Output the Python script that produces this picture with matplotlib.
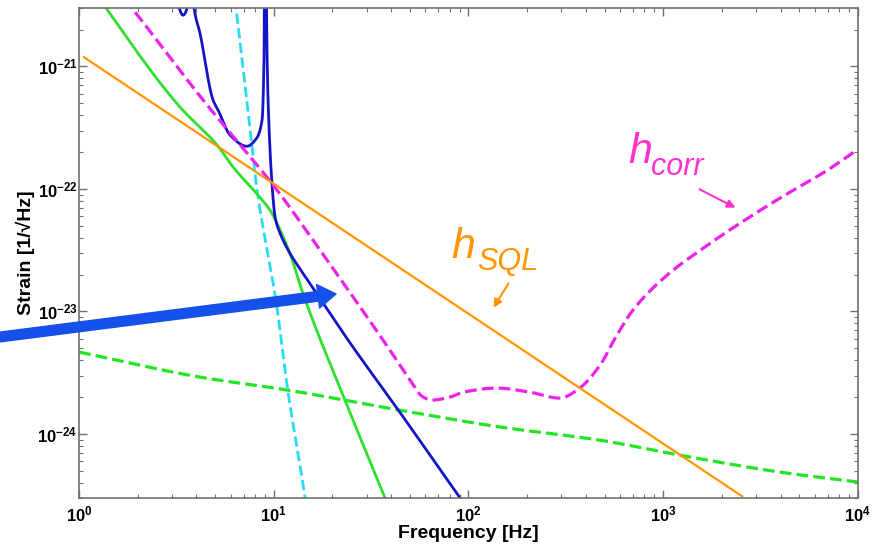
import numpy as np
import matplotlib
matplotlib.use('Agg')
import matplotlib.pyplot as plt
from matplotlib.ticker import FixedLocator, LogLocator, NullFormatter, FuncFormatter

plt.rcParams['font.family'] = ['Liberation Sans', 'DejaVu Sans']
plt.rcParams['mathtext.fontset'] = 'custom'
plt.rcParams['mathtext.rm'] = 'Liberation Sans:bold'
plt.rcParams['mathtext.bf'] = 'Liberation Sans:bold'

# Noise curves, frequency in Hz and strain in 1/sqrt(Hz)
sql_freq = [1.06, 2540]
sql_strain = [1.19e-21, 3.10e-25]

corr_freq = [1.58, 1.87, 4.34, 10.4, 17.3, 39.5, 50.1, 58.5, 65.0, 80.4, 93.8, 140,
             207, 295, 361, 474, 566, 700, 1047, 1549, 2483, 4130, 6950, 10000]
corr_strain = [4.17e-21, 2.99e-21, 5.31e-22, 9.77e-23, 3.16e-23, 4.83e-24, 2.75e-24,
               2.00e-24, 1.89e-24, 2.00e-24, 2.19e-24, 2.37e-24, 2.19e-24, 1.96e-24,
               2.28e-24, 3.65e-24, 6.05e-24, 1.03e-23, 1.98e-23, 3.16e-23, 5.26e-23,
               8.73e-23, 1.42e-22, 2.11e-22]

susp_freq = [1.0, 3.30, 5.12, 6.18, 8.30, 9.57, 10.8, 12.1, 14.1, 23.2, 37.3, 45.0]
susp_strain = [6.1e-21, 4.66e-22, 2.28e-22, 1.51e-22, 8.9e-23, 6.71e-23, 4.61e-23,
               2.99e-23, 1.41e-23, 1.89e-24, 2.99e-25, 1.45e-25]

seis_freq = [6.0, 6.40, 7.47, 8.21, 9.24, 10.2, 11.8, 14.5, 16.0]
seis_strain = [7.0e-21, 2.99e-21, 3.65e-22, 9.77e-23, 3.16e-23, 1.31e-23, 2.28e-24,
               2.99e-25, 1.0e-25]

total_freq = [3.10, 3.27, 3.42, 3.59, 3.72, 3.90, 4.18, 4.88, 5.18, 5.97, 7.29, 8.02,
              8.71, 8.91, 9.02, 9.25, 9.35, 9.79, 10.16, 10.77, 12.1, 14.1, 17.9,
              24.7, 44.6, 90.6, 110]
total_strain = [5.0e-21, 2.99e-21, 2.62e-21, 2.99e-21, 1.0e-20, 2.99e-21, 1.87e-21,
                5.31e-22, 4.40e-22, 2.75e-22, 2.23e-22, 2.50e-22, 3.64e-22, 1.12e-21,
                3.0e-20, 1.12e-21, 5.31e-22, 1.11e-22, 5.89e-23, 4.36e-23, 2.99e-23,
                2.06e-23, 1.17e-23, 5.51e-24, 1.49e-24, 2.99e-25, 1.93e-25]

shot_freq = [1.0, 4.18, 11.8, 44.6, 145, 474, 1222, 3981, 10000]
shot_strain = [4.66e-24, 2.91e-24, 2.28e-24, 1.56e-24, 1.14e-24, 8.89e-25, 6.70e-25,
               4.88e-25, 4.05e-25]

W, H = 876, 546


def px(x, y):
    # pixel position (from top-left) to figure fraction
    return x / W, 1 - y / H


def pchip_loglog(freq, strain, n=30):
    """Monotone cubic through the points in log-log space, so curves look smooth."""
    x = np.log10(freq)
    y = np.log10(strain)
    h = np.diff(x)
    d = np.diff(y) / h
    m = np.zeros_like(y)
    m[0], m[-1] = d[0], d[-1]
    for k in range(1, len(x) - 1):
        if d[k - 1] * d[k] > 0:
            w1 = 2 * h[k] + h[k - 1]
            w2 = h[k] + 2 * h[k - 1]
            m[k] = (w1 + w2) / (w1 / d[k - 1] + w2 / d[k])
    xs, ys = [], []
    for k in range(len(x) - 1):
        t = np.linspace(0, 1, n, endpoint=(k == len(x) - 2))
        h00 = 2 * t**3 - 3 * t**2 + 1
        h10 = t**3 - 2 * t**2 + t
        h01 = -2 * t**3 + 3 * t**2
        h11 = t**3 - t**2
        xs.append(x[k] + t * h[k])
        ys.append(h00 * y[k] + h10 * h[k] * m[k] + h01 * y[k + 1] + h11 * h[k] * m[k + 1])
    return 10 ** np.concatenate(xs), 10 ** np.concatenate(ys)


fig = plt.figure(figsize=(W / 100, H / 100), dpi=100)
ax = fig.add_axes([79 / W, 1 - 498 / H, (858 - 79) / W, (498 - 8) / H])

ax.plot(*pchip_loglog(shot_freq, shot_strain), color='#22e622', lw=2.3, ls='--')
ax.plot(*pchip_loglog(seis_freq, seis_strain), color='#28dcf0', lw=2.0, ls='--')
ax.plot(*pchip_loglog(susp_freq, susp_strain), color='#2ee02e', lw=2.0)
ax.plot(*pchip_loglog(total_freq, total_strain), color='#1414c8', lw=2.0)
ax.plot(*pchip_loglog(corr_freq, corr_strain), color='#ea22ea', lw=2.3, ls='--')
ax.plot(sql_freq, sql_strain, color='#ff9500', lw=1.6)

ax.set_xscale('log')
ax.set_yscale('log')
ax.set_xlim(1, 1e4)
ax.set_ylim(3e-25, 3e-21)

ax.xaxis.set_major_locator(FixedLocator([1, 10, 100, 1000, 10000]))
ax.yaxis.set_major_locator(FixedLocator([1e-24, 1e-23, 1e-22, 1e-21]))
for axis in (ax.xaxis, ax.yaxis):
    axis.set_minor_locator(LogLocator(base=10, subs=np.arange(2, 10)))
    axis.set_minor_formatter(NullFormatter())
    axis.set_major_formatter(FuncFormatter(lambda v, pos: r'$\mathrm{10^{%d}}$' % round(np.log10(v))))

ax.tick_params(which='both', direction='in', top=True, right=True, color='#707070')
ax.tick_params(which='major', length=6, width=1.0, labelsize=12)
ax.tick_params(which='minor', length=3, width=0.8)
ax.tick_params(axis='x', pad=5)
ax.tick_params(axis='y', pad=1)
for s in ax.spines.values():
    s.set_color('#707070')
    s.set_linewidth(1.2)

ax.set_xlabel('Frequency [Hz]', fontsize=14, fontweight='bold', labelpad=0)
ax.set_ylabel('Strain [1/\u221aHz]', fontsize=14, fontweight='bold', labelpad=2)

# curve labels
fig.text(*px(451, 258), 'h', color='#ff9500', fontsize=31, style='italic',
         ha='left', va='baseline')
fig.text(*px(477, 270), 'SQL', color='#ff9500', fontsize=22, style='italic',
         ha='left', va='baseline')
fig.text(*px(628, 163), 'h', color='#ff33cc', fontsize=31, style='italic',
         ha='left', va='baseline')
fig.text(*px(651, 175), 'corr', color='#ff33cc', fontsize=22, style='italic',
         ha='left', va='baseline')

ax.annotate('', xy=px(492, 310), xytext=px(510, 281), xycoords='figure fraction',
            textcoords='figure fraction',
            arrowprops=dict(arrowstyle='-|>', color='#ff9500', lw=1.5, mutation_scale=12))
ax.annotate('', xy=px(738, 209), xytext=px(697, 188), xycoords='figure fraction',
            textcoords='figure fraction',
            arrowprops=dict(arrowstyle='-|>', color='#ff33cc', lw=1.5, mutation_scale=12))

# big pointer arrow coming in from the left edge
ax.annotate('', xy=px(336, 294), xytext=px(0, 337), xycoords='figure fraction',
            textcoords='figure fraction', annotation_clip=False,
            arrowprops=dict(width=7, headwidth=17, headlength=13, color='#1650ea',
                            shrink=0))

fig.savefig('out.png', dpi=100)
